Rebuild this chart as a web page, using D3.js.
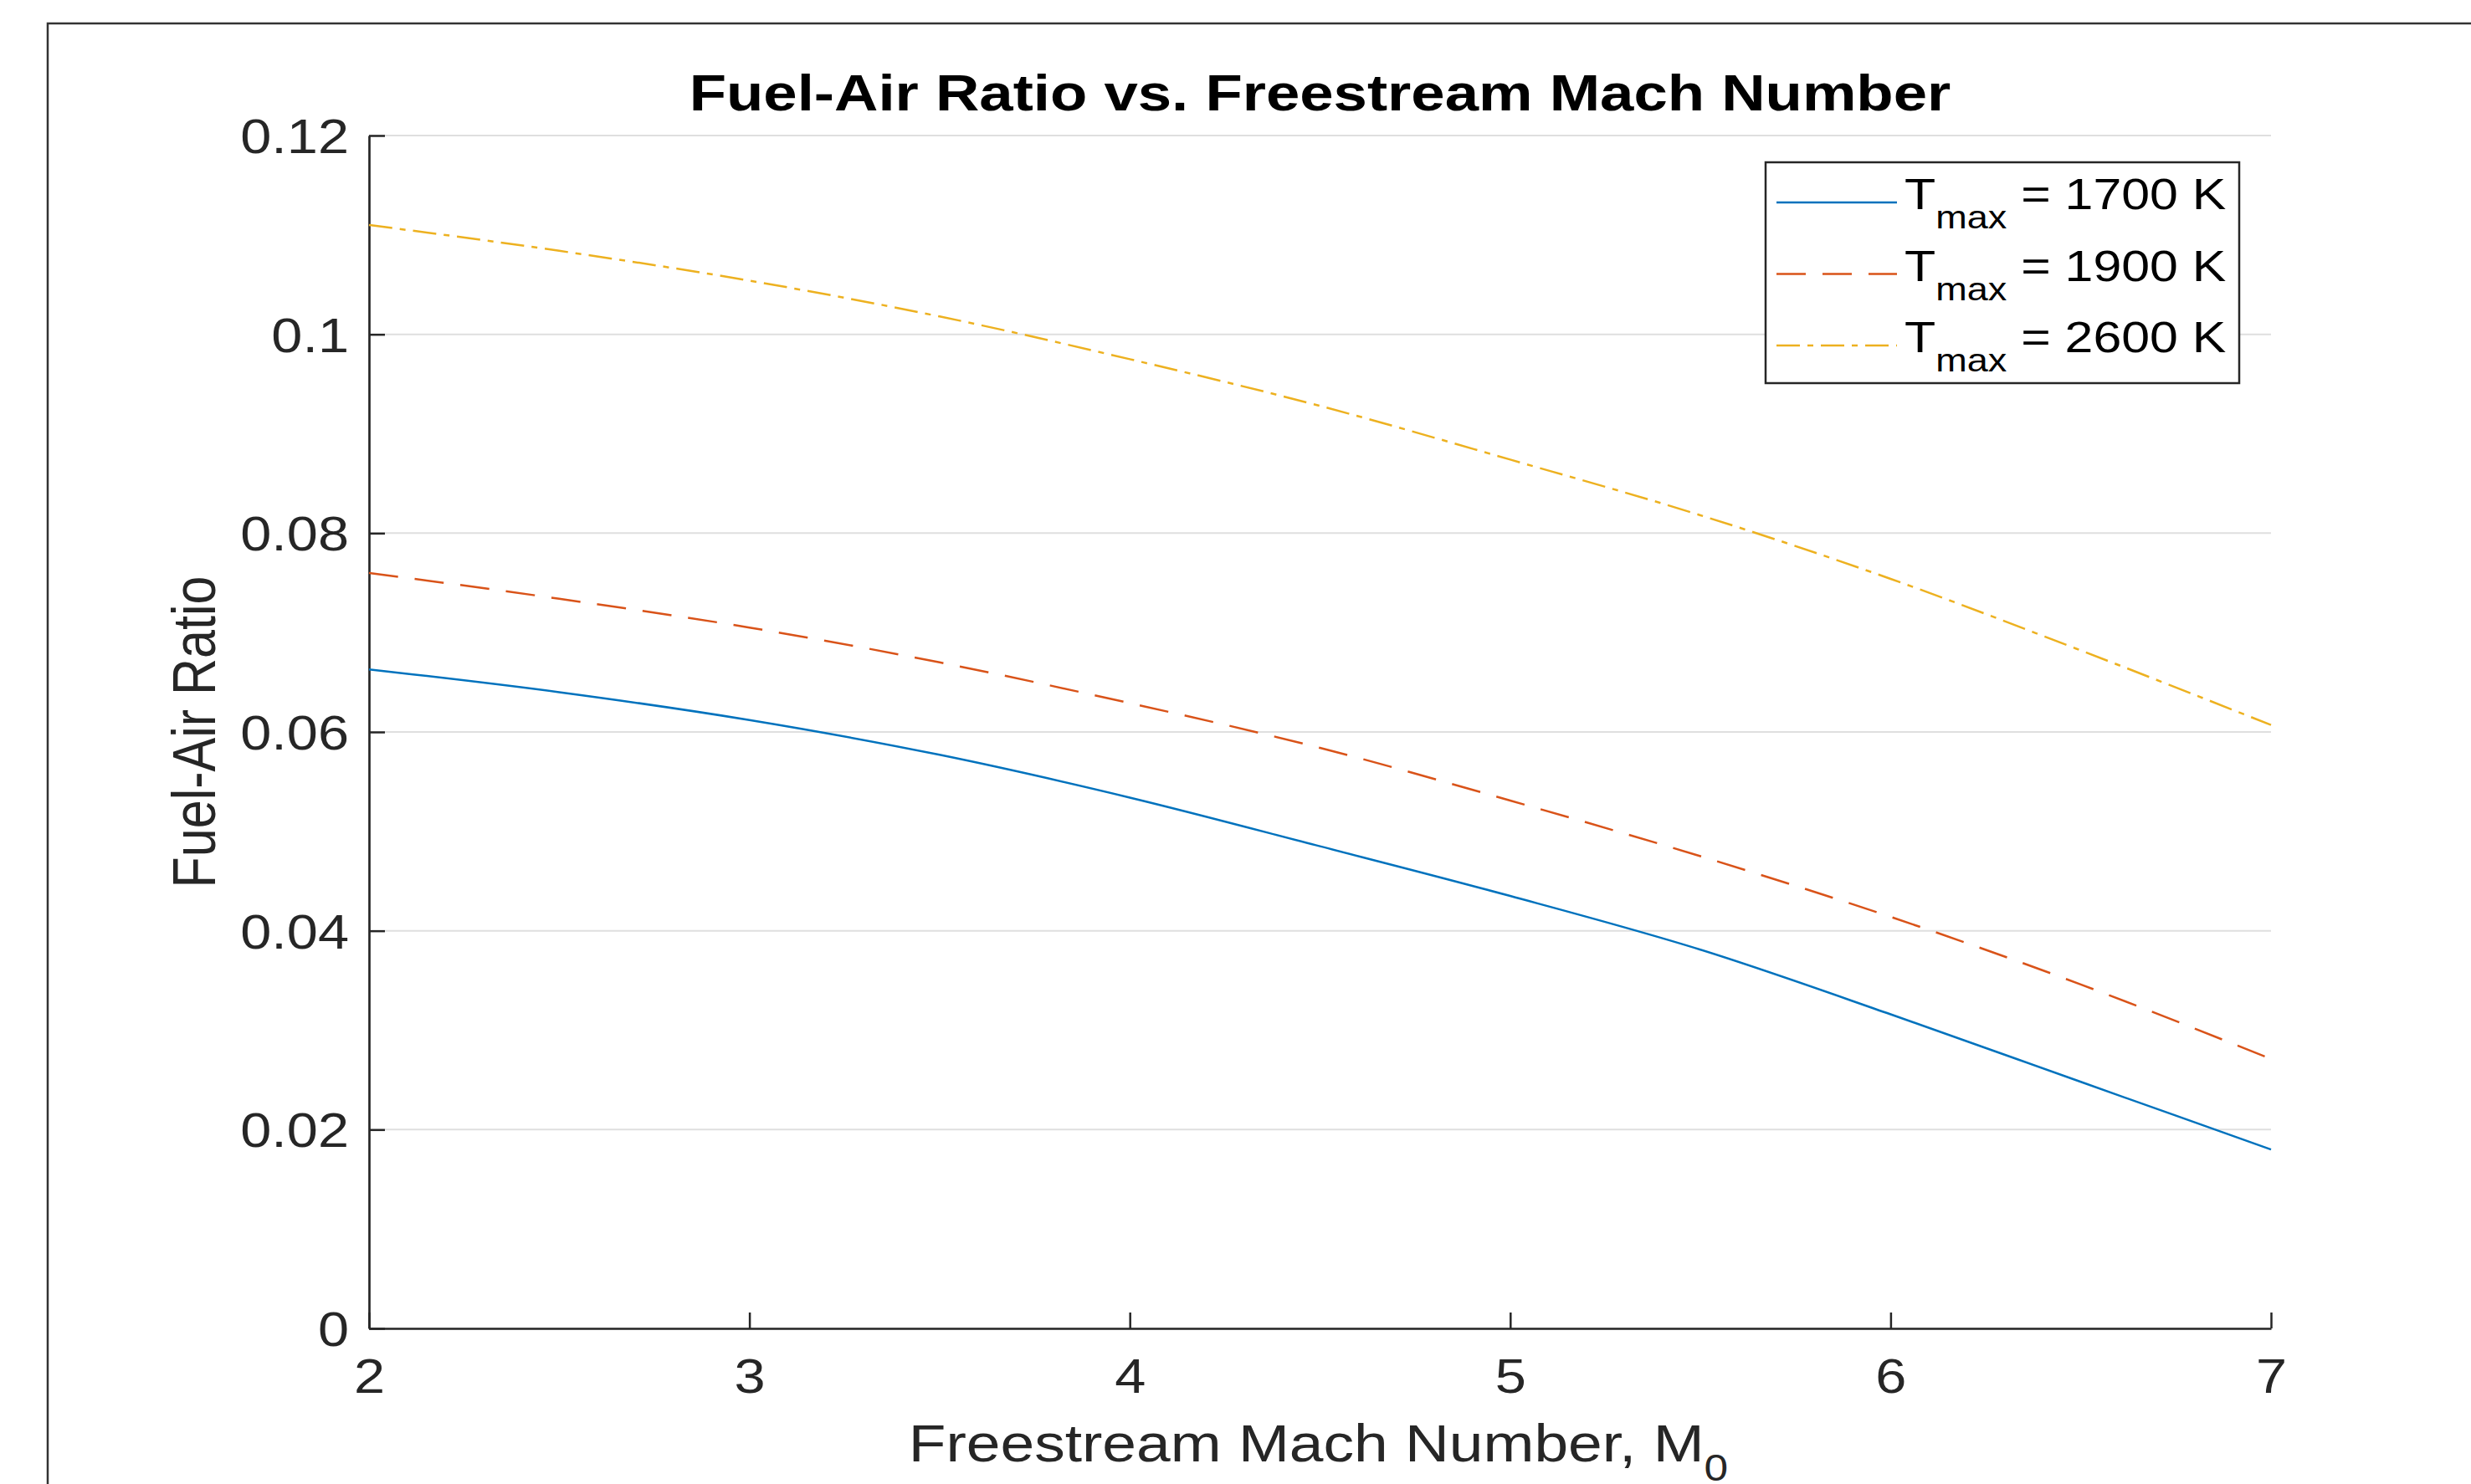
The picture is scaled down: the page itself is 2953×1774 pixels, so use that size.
<!DOCTYPE html>
<html>
  <head>
    <meta charset="utf-8">
    <script src="https://d3js.org/d3.v7.min.js"></script>
    <style type="text/css">
      body {
        margin: 0;
        padding: 0;
        background: #fff;
      }
      svg text {
        font-family: 'Liberation Sans', Arial, Helvetica, sans-serif;
      }
    </style>
  </head>
  <body>
    <svg id="chart" width="2953" height="1774"></svg>
    <script>
      /* Data */
      const mach = [2, 2.5, 3, 3.5, 4, 4.5, 5, 5.5, 6, 6.5, 7]
      const far1700 = [0.0663, 0.0640, 0.0612, 0.0577, 0.0534, 0.0485, 0.0435, 0.0381, 0.0316, 0.0248, 0.0180]
      const far1900 = [0.0760, 0.0734, 0.0705, 0.0670, 0.0629, 0.0584, 0.0531, 0.0475, 0.0414, 0.0346, 0.0271]
      const far2600 = [0.1110, 0.1084, 0.1054, 0.1018, 0.0975, 0.0928, 0.0874, 0.0818, 0.0754, 0.0682, 0.0607]
      const seriesTemps = ['1700', '1900', '2600']
      const xTicks = [2, 3, 4, 5, 6, 7]
      const xTickLabels = ['2', '3', '4', '5', '6', '7']
      const yTicks = [0, 0.02, 0.04, 0.06, 0.08, 0.1, 0.12]
      const yTickLabels = ['0', '0.02', '0.04', '0.06', '0.08', '0.1', '0.12']

      // the source picture is stretched sideways, text follows that
      const SX = 1.17
      const ink = '#262626'

      const plot = { left: 441, right: 2714, top: 162, bottom: 1588 }

      const svg = d3.select('#chart')

      // outer figure frame (runs off the right and bottom)
      svg.append('rect')
        .attr('x', 57).attr('y', 28)
        .attr('width', 3100).attr('height', 2000)
        .attr('fill', 'none')
        .attr('stroke', '#333')
        .attr('stroke-width', 2.5)

      const x = d3.scaleLinear().domain([2, 7]).range([plot.left, plot.right])
      const y = d3.scaleLinear().domain([0, 0.12]).range([plot.bottom, plot.top])

      // horizontal grid
      svg.append('g')
        .selectAll('line')
        .data(yTicks)
        .join('line')
        .attr('x1', plot.left).attr('x2', plot.right)
        .attr('y1', d => y(d)).attr('y2', d => y(d))
        .attr('stroke', '#dfdfdf')
        .attr('stroke-width', 2)

      // y axis
      const gy = svg.append('g')
        .attr('transform', `translate(${plot.left},0)`)
        .call(d3.axisLeft(y)
          .tickValues(yTicks)
          .tickFormat((d, i) => yTickLabels[i])
          .tickSize(-19)
          .tickSizeOuter(0)
          .tickPadding(24))
      gy.select('.domain').attr('stroke', ink).attr('stroke-width', 2.7)
      gy.selectAll('.tick line').attr('stroke', ink).attr('stroke-width', 2.5)
      gy.selectAll('.tick text')
        .attr('x', null)
        .attr('dy', '0.36em')
        .attr('transform', `translate(-24,0) scale(${SX},1)`)
        .attr('fill', ink)
        .style('font-size', '57px')

      // x axis
      const gx = svg.append('g')
        .attr('transform', `translate(0,${plot.bottom})`)
        .call(d3.axisBottom(x)
          .tickValues(xTicks)
          .tickFormat((d, i) => xTickLabels[i])
          .tickSize(-19)
          .tickSizeOuter(0))
      gx.select('.domain').attr('stroke', ink).attr('stroke-width', 2.7)
      gx.selectAll('.tick line').attr('stroke', ink).attr('stroke-width', 2.5)
      gx.selectAll('.tick text')
        .attr('y', null)
        .attr('dy', null)
        .attr('transform', `translate(0,77) scale(${SX},1)`)
        .attr('fill', ink)
        .style('font-size', '57px')

      // series
      const series = [
        { temp: seriesTemps[0], values: far1700, color: '#0072BD', dash: null },
        { temp: seriesTemps[1], values: far1900, color: '#D95319', dash: '35,20' },
        { temp: seriesTemps[2], values: far2600, color: '#EDB120', dash: '28,9,7,9' }
      ]

      const line = d3.line()
        .x((d, i) => x(mach[i]))
        .y(d => y(d))
        .curve(d3.curveMonotoneX)

      svg.append('g')
        .selectAll('path')
        .data(series)
        .join('path')
        .attr('d', d => line(d.values))
        .attr('fill', 'none')
        .attr('stroke', d => d.color)
        .attr('stroke-width', 2.5)
        .attr('stroke-dasharray', d => d.dash)

      // title
      svg.append('text')
        .attr('transform', `translate(${(plot.left + plot.right) / 2},132) scale(${SX},1)`)
        .attr('text-anchor', 'middle')
        .attr('fill', '#000')
        .style('font-size', '62px')
        .style('font-weight', 'bold')
        .text('Fuel-Air Ratio vs. Freestream Mach Number')

      // x label with subscript
      const xl = svg.append('text')
        .attr('transform', `translate(${(plot.left + plot.right) / 2 - 2},1747) scale(${SX},1)`)
        .attr('text-anchor', 'middle')
        .attr('fill', ink)
        .style('font-size', '62.5px')
      xl.append('tspan').text('Freestream Mach Number, M')
      xl.append('tspan').attr('dy', 23).style('font-size', '44px').text('0')

      // y label
      svg.append('text')
        .attr('transform', `translate(257,${(plot.top + plot.bottom) / 2}) scale(${SX},1) rotate(-90)`)
        .attr('text-anchor', 'middle')
        .attr('fill', ink)
        .style('font-size', '61px')
        .text('Fuel-Air Ratio')

      // legend
      const leg = svg.append('g')
      leg.append('rect')
        .attr('x', 2110).attr('y', 194)
        .attr('width', 566).attr('height', 264)
        .attr('fill', '#fff')
        .attr('stroke', ink)
        .attr('stroke-width', 2.5)

      const rows = leg.selectAll('g.row')
        .data(series)
        .join('g')
        .attr('class', 'row')
        .attr('transform', (d, i) => `translate(0,${242 + i * 85.5})`)

      rows.append('line')
        .attr('x1', 2123).attr('x2', 2267)
        .attr('y1', 0).attr('y2', 0)
        .attr('stroke', d => d.color)
        .attr('stroke-width', 2.5)
        .attr('stroke-dasharray', d => d.dash)

      const lt = rows.append('text')
        .attr('transform', `translate(2276,8) scale(${SX},1)`)
        .attr('fill', '#000')
        .style('font-size', '52px')
      lt.append('tspan').text('T')
      lt.append('tspan').attr('dy', 23).style('font-size', '38.5px').text('max')
      lt.append('tspan').attr('dy', -23).text(d => ` = ${d.temp} K`)
    </script>
  </body>
</html>
